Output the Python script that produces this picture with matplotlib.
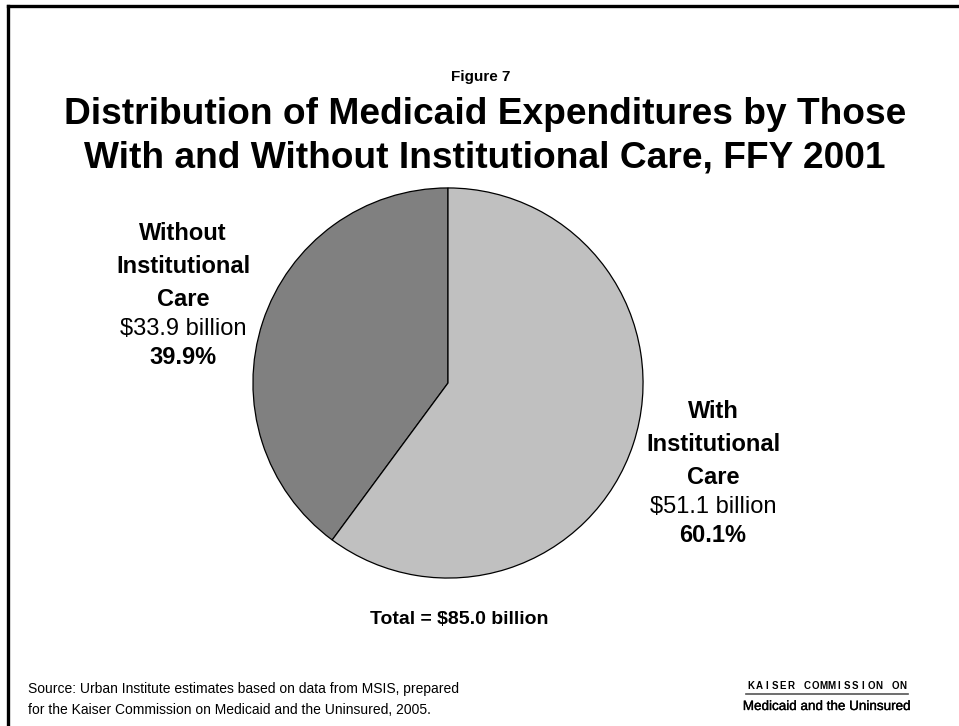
# Medicaid expenditures split by institutional care use, FFY 2001
import matplotlib
matplotlib.use("Agg")
import matplotlib.pyplot as plt
import matplotlib.patheffects as pe
from matplotlib.lines import Line2D

plt.rcParams['font.family'] = ['Liberation Sans', 'DejaVu Sans']

groups = [["Without", "Institutional", "Care"], ["With", "Institutional", "Care"]]
billions = [33.9, 51.1]
shares = [39.9, 60.1]
total = 85.0
colors = ['#808080', '#c0c0c0']

W, H = 959, 726
fig = plt.figure(figsize=(W / 100, H / 100), dpi=100)

def px(x, y):
    return x / W, 1 - y / H

# frame lines along top and left edge
fig.add_artist(Line2D([8 / W, 1], [1 - 6 / H] * 2, color='black', lw=2.4,
                      transform=fig.transFigure))
fig.add_artist(Line2D([8 / W] * 2, [0, 1 - 6 / H], color='black', lw=2.4,
                      transform=fig.transFigure))

fig.text(*px(481, 77), "Figure 7", ha='center', va='center',
         fontsize=11, fontweight='bold')
fig.text(*px(485, 114), "Distribution of Medicaid Expenditures by Those",
         ha='center', va='center', fontsize=26.7, fontweight='bold')
fig.text(*px(485, 158), "With and Without Institutional Care, FFY 2001",
         ha='center', va='center', fontsize=26.7, fontweight='bold')

# pie: center (448, 383), radius 197 px
r = 197
ax = fig.add_axes([(448 - r) / W, 1 - (383 + r) / H, 2 * r / W, 2 * r / H])
ax.pie(billions, colors=colors, startangle=90, counterclock=True,
       wedgeprops=dict(edgecolor='black', linewidth=0.9))
ax.set_xlim(-1.01, 1.01)
ax.set_ylim(-1.01, 1.01)
ax.axis('off')

label_pos = [(183, 233), (713, 411)]
for (x, y), name, b, s in zip(label_pos, groups, billions, shares):
    for i, line in enumerate(name):
        fig.text(*px(x, y + 33.5 * i), line, ha='center', va='center',
                 fontsize=17, fontweight='bold')
    fig.text(*px(x, y + 96), f"${b:.1f} billion", ha='center', va='center',
             fontsize=17)
    fig.text(*px(x, y + 124), f"{s:.1f}%", ha='center', va='center',
             fontsize=17, fontweight='bold')

fig.text(*px(459, 620), f"Total = ${total:.1f} billion", ha='center',
         va='center', fontsize=14, fontweight='bold')

fig.text(*px(28, 689), "Source: Urban Institute estimates based on data from MSIS, prepared",
         ha='left', va='center', fontsize=10)
fig.text(*px(28, 710), "for the Kaiser Commission on Medicaid and the Uninsured, 2005.",
         ha='left', va='center', fontsize=10)

# commission logo, letter-spaced heading over a rule
for i, ch in enumerate("KAISER COMMISSION ON"):
    fig.text(*px(751 + 8 * i, 686), ch, ha='center', va='center',
             fontsize=7, fontweight='bold')
fig.add_artist(Line2D([746 / W, 908 / W], [1 - 694 / H] * 2, color='#555555',
                      lw=1.2, transform=fig.transFigure))
fig.text(*px(827, 707), "Medicaid and the Uninsured", ha='center',
         va='center', fontsize=9.7,
         path_effects=[pe.withStroke(linewidth=0.25, foreground='black')])

fig.savefig('out.png', dpi=100)
